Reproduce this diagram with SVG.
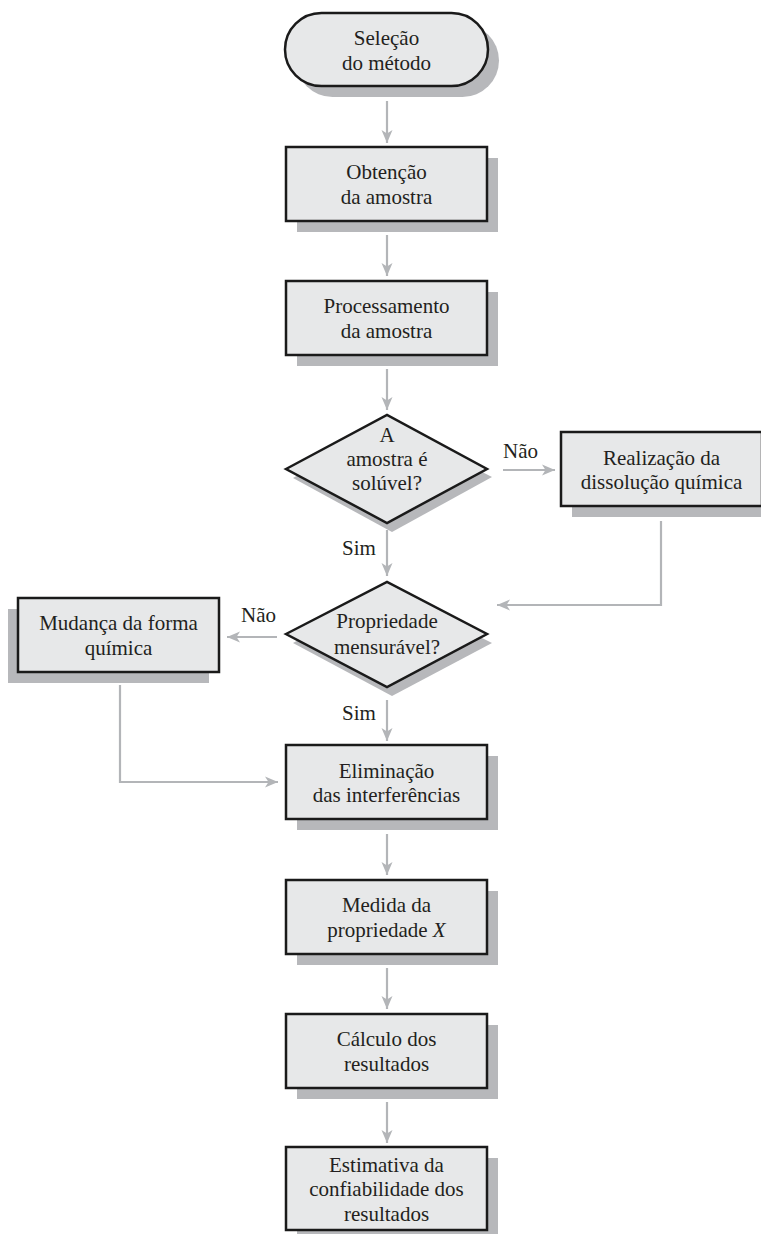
<svg xmlns="http://www.w3.org/2000/svg" width="761" height="1234" viewBox="0 0 761 1234">
<defs>
<style>
.box{fill:#e7e8e9;stroke:#1a1a1a;stroke-width:2.5}
.sh{fill:#b7b8bb}
.t{font-family:"Liberation Serif","Times New Roman",serif;font-size:21px;fill:#231f20;text-anchor:middle}
.lbl{font-family:"Liberation Serif","Times New Roman",serif;font-size:21px;fill:#231f20}
.c{fill:none;stroke:#b3b5b8;stroke-width:2.2}
</style>
<marker id="ah" markerUnits="userSpaceOnUse" markerWidth="14" markerHeight="12" refX="13" refY="6" orient="auto">
<path d="M0,0.5 L13,6 L0,11.5 L3.5,6 z" fill="#b3b5b8"/>
</marker>
</defs>
<rect width="761" height="1234" fill="#ffffff"/>

<g id="connectors">
<path class="c" d="M387,101 V143" marker-end="url(#ah)"/>
<path class="c" d="M387,235 V276" marker-end="url(#ah)"/>
<path class="c" d="M387,369 V410" marker-end="url(#ah)"/>
<path class="c" d="M503,470 H555" marker-end="url(#ah)"/>
<path class="c" d="M387,530 V576" marker-end="url(#ah)"/>
<path class="c" d="M661,521 V605 H497" marker-end="url(#ah)"/>
<path class="c" d="M277,637 H227" marker-end="url(#ah)"/>
<path class="c" d="M387,700 V741" marker-end="url(#ah)"/>
<path class="c" d="M120,685 V782 H278" marker-end="url(#ah)"/>
<path class="c" d="M387,834 V875" marker-end="url(#ah)"/>
<path class="c" d="M387,968 V1009" marker-end="url(#ah)"/>
<path class="c" d="M387,1102 V1143" marker-end="url(#ah)"/>
<text class="lbl" x="503" y="458">Não</text>
<text class="lbl" x="342" y="555">Sim</text>
<text class="lbl" x="241" y="622">Não</text>
<text class="lbl" x="342" y="720">Sim</text>
</g>

<g id="n1">
<rect class="sh" x="296" y="24" width="203" height="73" rx="36.5"/>
<rect class="box" x="285" y="13" width="203" height="73" rx="36.5"/>
<text class="t" x="386.5" y="45">Seleção</text>
<text class="t" x="386.5" y="70">do método</text>
</g>

<g id="n2">
<rect class="sh" x="297" y="158" width="201" height="74"/>
<rect class="box" x="286" y="147" width="201" height="74"/>
<text class="t" x="386.5" y="179">Obtenção</text>
<text class="t" x="386.5" y="204">da amostra</text>
</g>

<g id="n3">
<rect class="sh" x="297" y="292" width="201" height="74"/>
<rect class="box" x="286" y="281" width="201" height="74"/>
<text class="t" x="386.5" y="313">Processamento</text>
<text class="t" x="386.5" y="338">da amostra</text>
</g>

<g id="n4">
<polygon class="sh" points="293,478 388,424 492,477 392,532"/>
<polygon class="box" points="286,469 387,415 487,469 387,523"/>
<text class="t" x="387" y="442">A</text>
<text class="t" x="387" y="466">amostra é</text>
<text class="t" x="387" y="490">solúvel?</text>
</g>

<g id="n5">
<rect class="sh" x="572" y="443" width="201" height="74"/>
<rect class="box" x="561" y="432" width="201" height="74"/>
<text class="t" x="661.5" y="465">Realização da</text>
<text class="t" x="661.5" y="489">dissolução química</text>
</g>

<g id="n6">
<polygon class="sh" points="293,643 388,591 492,643 392,696"/>
<polygon class="box" points="286,634 387,582 487,634 387,687"/>
<text class="t" x="387" y="628">Propriedade</text>
<text class="t" x="387" y="654">mensurável?</text>
</g>

<g id="n7">
<rect class="sh" x="8" y="609" width="201" height="74"/>
<rect class="box" x="18" y="598" width="201" height="74"/>
<text class="t" x="118.5" y="630">Mudança da forma</text>
<text class="t" x="118.5" y="655">química</text>
</g>

<g id="n8">
<rect class="sh" x="297" y="756" width="201" height="74"/>
<rect class="box" x="286" y="745" width="201" height="74"/>
<text class="t" x="386.5" y="778">Eliminação</text>
<text class="t" x="386.5" y="802">das interferências</text>
</g>

<g id="n9">
<rect class="sh" x="297" y="891" width="201" height="74"/>
<rect class="box" x="286" y="880" width="201" height="74"/>
<text class="t" x="386.5" y="912">Medida da</text>
<text class="t" x="386.5" y="937">propriedade <tspan font-style="italic">X</tspan></text>
</g>

<g id="n10">
<rect class="sh" x="297" y="1025" width="201" height="74"/>
<rect class="box" x="286" y="1014" width="201" height="74"/>
<text class="t" x="386.5" y="1046">Cálculo dos</text>
<text class="t" x="386.5" y="1071">resultados</text>
</g>

<g id="n11">
<rect class="sh" x="297" y="1158" width="201" height="83"/>
<rect class="box" x="286" y="1147" width="201" height="83"/>
<text class="t" x="386.5" y="1172">Estimativa da</text>
<text class="t" x="386.5" y="1196">confiabilidade dos</text>
<text class="t" x="386.5" y="1221">resultados</text>
</g>
</svg>
